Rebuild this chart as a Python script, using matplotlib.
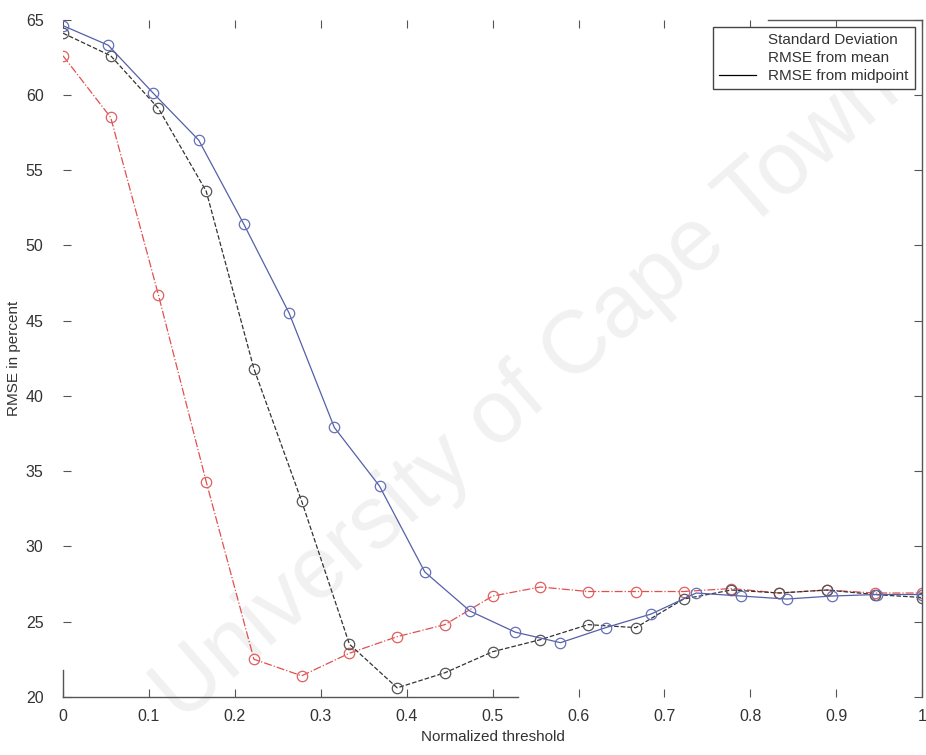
import numpy as np
import matplotlib
matplotlib.use('Agg')
import matplotlib.pyplot as plt
from matplotlib.lines import Line2D

# thresholds: red/black sampled at k/18, blue at k/19
x18 = np.arange(19) / 18.0
x19 = np.arange(20) / 19.0

std_dev = [62.6, 58.5, 46.7, 34.3, 22.5, 21.4, 22.9, 24.0, 24.8, 26.7,
           27.3, 27.0, 27.0, 27.0, 27.2, 26.9, 27.1, 26.9, 26.9]
rmse_mid = [64.1, 62.6, 59.1, 53.6, 41.8, 33.0, 23.5, 20.6, 21.6, 23.0,
            23.8, 24.8, 24.6, 26.5, 27.1, 26.9, 27.1, 26.8, 26.6]
rmse_mean = [64.6, 63.3, 60.1, 57.0, 51.4, 45.5, 37.9, 34.0, 28.3, 25.7,
             24.3, 23.6, 24.6, 25.5, 26.9, 26.7, 26.5, 26.7, 26.8, 26.8]

labels = ['Standard Deviation', 'RMSE from mean', 'RMSE from midpoint']

plt.rcParams['font.family'] = ['Liberation Sans', 'DejaVu Sans']
fig = plt.figure(figsize=(9.26, 7.55), dpi=100)
ax = fig.add_axes([0.068, 0.077, 0.928, 0.897])

# scan watermark, kept behind the axes
fig.text(0.57, 0.48, 'University of Cape Town', rotation=41, fontsize=64,
         color='#f1f1f1', ha='center', va='center', zorder=-1)
ax.set_facecolor('none')

ax.plot(x18, std_dev, '-.', color='#e05050', lw=0.9, marker='o', ms=7.5,
        mfc='none', mec='#e06060', mew=0.9)
ax.plot(x18, rmse_mid, '--', color='#333333', lw=0.9, marker='o', ms=7.5,
        mfc='none', mec='#555555', mew=0.9)
ax.plot(x19, rmse_mean, '-', color='#5560a8', lw=0.9, marker='o', ms=7.5,
        mfc='none', mec='#6670b8', mew=0.9)

ax.set_xlim(0, 1)
ax.set_ylim(20, 65)
ax.set_xticks(np.arange(0, 1.01, 0.1))
ax.set_xticklabels(['0', '0.1', '0.2', '0.3', '0.4', '0.5', '0.6', '0.7', '0.8', '0.9', '1'])
ax.set_yticks(np.arange(20, 66, 5))
ax.tick_params(direction='in', length=6, labelsize=11.5, colors='#555555',
               labelcolor='#333333', top=True, right=True)
ax.tick_params(axis='x', pad=9)
ax.tick_params(axis='y', pad=14)

# the scan lost most of the box
ax.spines['bottom'].set_bounds(0, 0.53)
ax.spines['left'].set_bounds(20, 21.8)
ax.spines['top'].set_bounds(0.82, 1)
for s in ax.spines.values():
    s.set_color('#555555')
    s.set_linewidth(1.0)

ax.set_xlabel('Normalized threshold', fontsize=11, color='#333333', labelpad=4)
ax.set_ylabel('RMSE in percent', fontsize=11, color='#333333', labelpad=3)

handles = [Line2D([], [], linestyle='none'),
           Line2D([], [], linestyle='none'),
           Line2D([], [], color='black', lw=0.9)]
leg = ax.legend(handles, labels, loc='upper right', fontsize=11, fancybox=False,
                framealpha=1, edgecolor='#444444', borderaxespad=0.5,
                handlelength=2.4, labelspacing=0.25)
leg.get_frame().set_linewidth(1.0)
for t in leg.get_texts():
    t.set_color('#333333')

fig.savefig('out.png', dpi=100)
